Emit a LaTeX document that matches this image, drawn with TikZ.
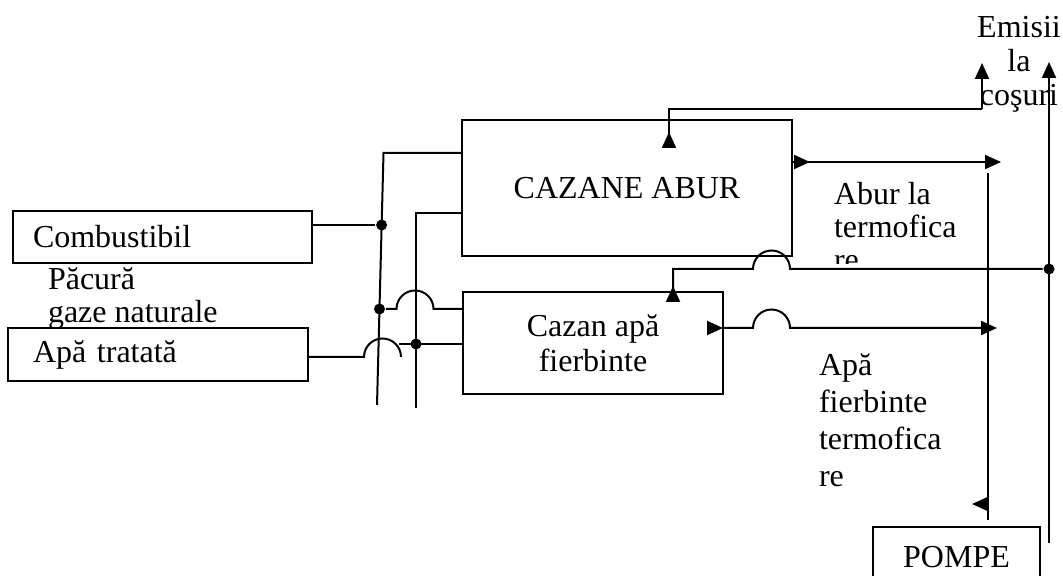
\documentclass[tikz,border=0pt]{standalone}
\usepackage{fontspec}
\setmainfont{Liberation Serif}
\usetikzlibrary{arrows.meta,calc}

\begin{document}
\begin{tikzpicture}[x=0.5pt, y=-0.5pt, line width=1pt, >={Triangle[length=8pt,width=7pt]},
  font=\fontsize{16}{16.5}\selectfont,
  box/.style={draw, fill=white, inner sep=0pt},
  dot/.style={circle, fill, inner sep=0pt, minimum size=5.5pt},
  txt/.style={align=left, inner sep=0pt, anchor=west}]
\useasboundingbox (0,0) rectangle (1063,576);
\clip (0,0) rectangle (1063,576);
\fill[white] (0,0) rectangle (1063,576);
% texts beside the lines
\node[txt] (comb txt) at (47,299) {Păcură\\gaze naturale};
\begin{scope}
\clip (800,150) rectangle (1000,264);
\node[txt] (abur txt) at (833,227) {Abur la\\termofica\\re};
\end{scope}
\node[txt, font=\fontsize{16}{18.5}\selectfont] (apa txt) at (818,420) {Apă\\fierbinte\\termofica\\re};
\node[align=center, inner sep=0pt, font=\fontsize{16}{17}\selectfont] (emis) at (1019,64) {Emisii\\la\\coşuri};
% boxes
\node[box, minimum width=165pt, minimum height=68pt] (abur) at (627,188) {CAZANE ABUR};
\node[box, minimum width=130pt, minimum height=51pt, align=center, font=\fontsize{16}{17.5}\selectfont] (apa) at (593,343) {Cazan apă\\fierbinte};
\node[box, minimum height=26pt, inner xsep=10pt, text width=129.5pt, align=left] (comb) at (162.5,237) {Combustibil};
\node[box, minimum height=26.5pt, inner xsep=12.5pt, text width=125pt, align=left] (trat) at (158,354.5) {Apă tratată};
\node[box, minimum width=83.5pt, minimum height=30pt] (pompe) at (956.5,557) {POMPE};
% feed lines on the left
\coordinate (fb0) at (383.5,153);
\coordinate (fb1) at (377,405);
\coordinate (wb0) at (416,213);
\coordinate (wb1) at (416,408);
\node[dot] (d1) at (381.6,225) {};
\node[dot] (d2) at (379.5,309) {};
\node[dot] (d3) at (416,344) {};
\node[dot] (d4) at (1049,269) {};
\draw (abur.west |- fb0) -- (fb0) -- (fb1);
\draw (abur.west |- wb0) -- (wb0) -- (wb1);
\draw (comb.east |- d1) -- (d1);
\draw (d2) -- ++(17,0) arc[start angle=180, end angle=360, radius=18.5] -- (apa.west |- d2);
\draw ($(trat.east)+(0,2.5)$) -- ++(55,0) arc[start angle=180, end angle=360, radius=18.5];
\draw ($(d3)+(-17,0)$) -- (apa.west |- d3);
% emissions
\coordinate (em0) at (669,143);
\coordinate (em1) at (669,109);
\coordinate (em2) at (982,109);
\coordinate (em3) at (982,63);
\draw (em0) -- (em1) -- (em2);
\draw[->] (em2) -- (em3);
\draw[->] (em0) -- ++(0,-11);
% steam
\coordinate (st0) at (792,162);
\coordinate (st1) at (1001,162);
\draw[->] (st0) -- (st1);
\draw[->] (st0) -- ++(18,0);
\coordinate (pv0) at (988,173);
\coordinate (pv1) at (988,520);
\draw (pv0) -- (pv1);
\draw[->] ($(pv1)+(0,-16)$) -- ++(-16,0);
% hot water and return
\coordinate (rb0) at (1049,543);
\coordinate (rb1) at (1049,62);
\draw[->] (rb0) -- (rb1);
\coordinate (rt0) at (673,269);
\coordinate (rt1) at (673,300);
\draw (d4) -- (790,269) arc[start angle=0, end angle=-180, radius=18.5] -- (rt0) -- (rt1);
\draw[->] (rt1) -- ++(0,-14);
\coordinate (hw0) at (723,328);
\coordinate (hw1) at (997,328);
\draw[->] (hw0) -- ++(30,0) arc[start angle=180, end angle=360, radius=18.5] -- (hw1);
\draw[->] ($(hw0)+(-14,0)$) -- (hw0);
\end{tikzpicture}
\end{document}
